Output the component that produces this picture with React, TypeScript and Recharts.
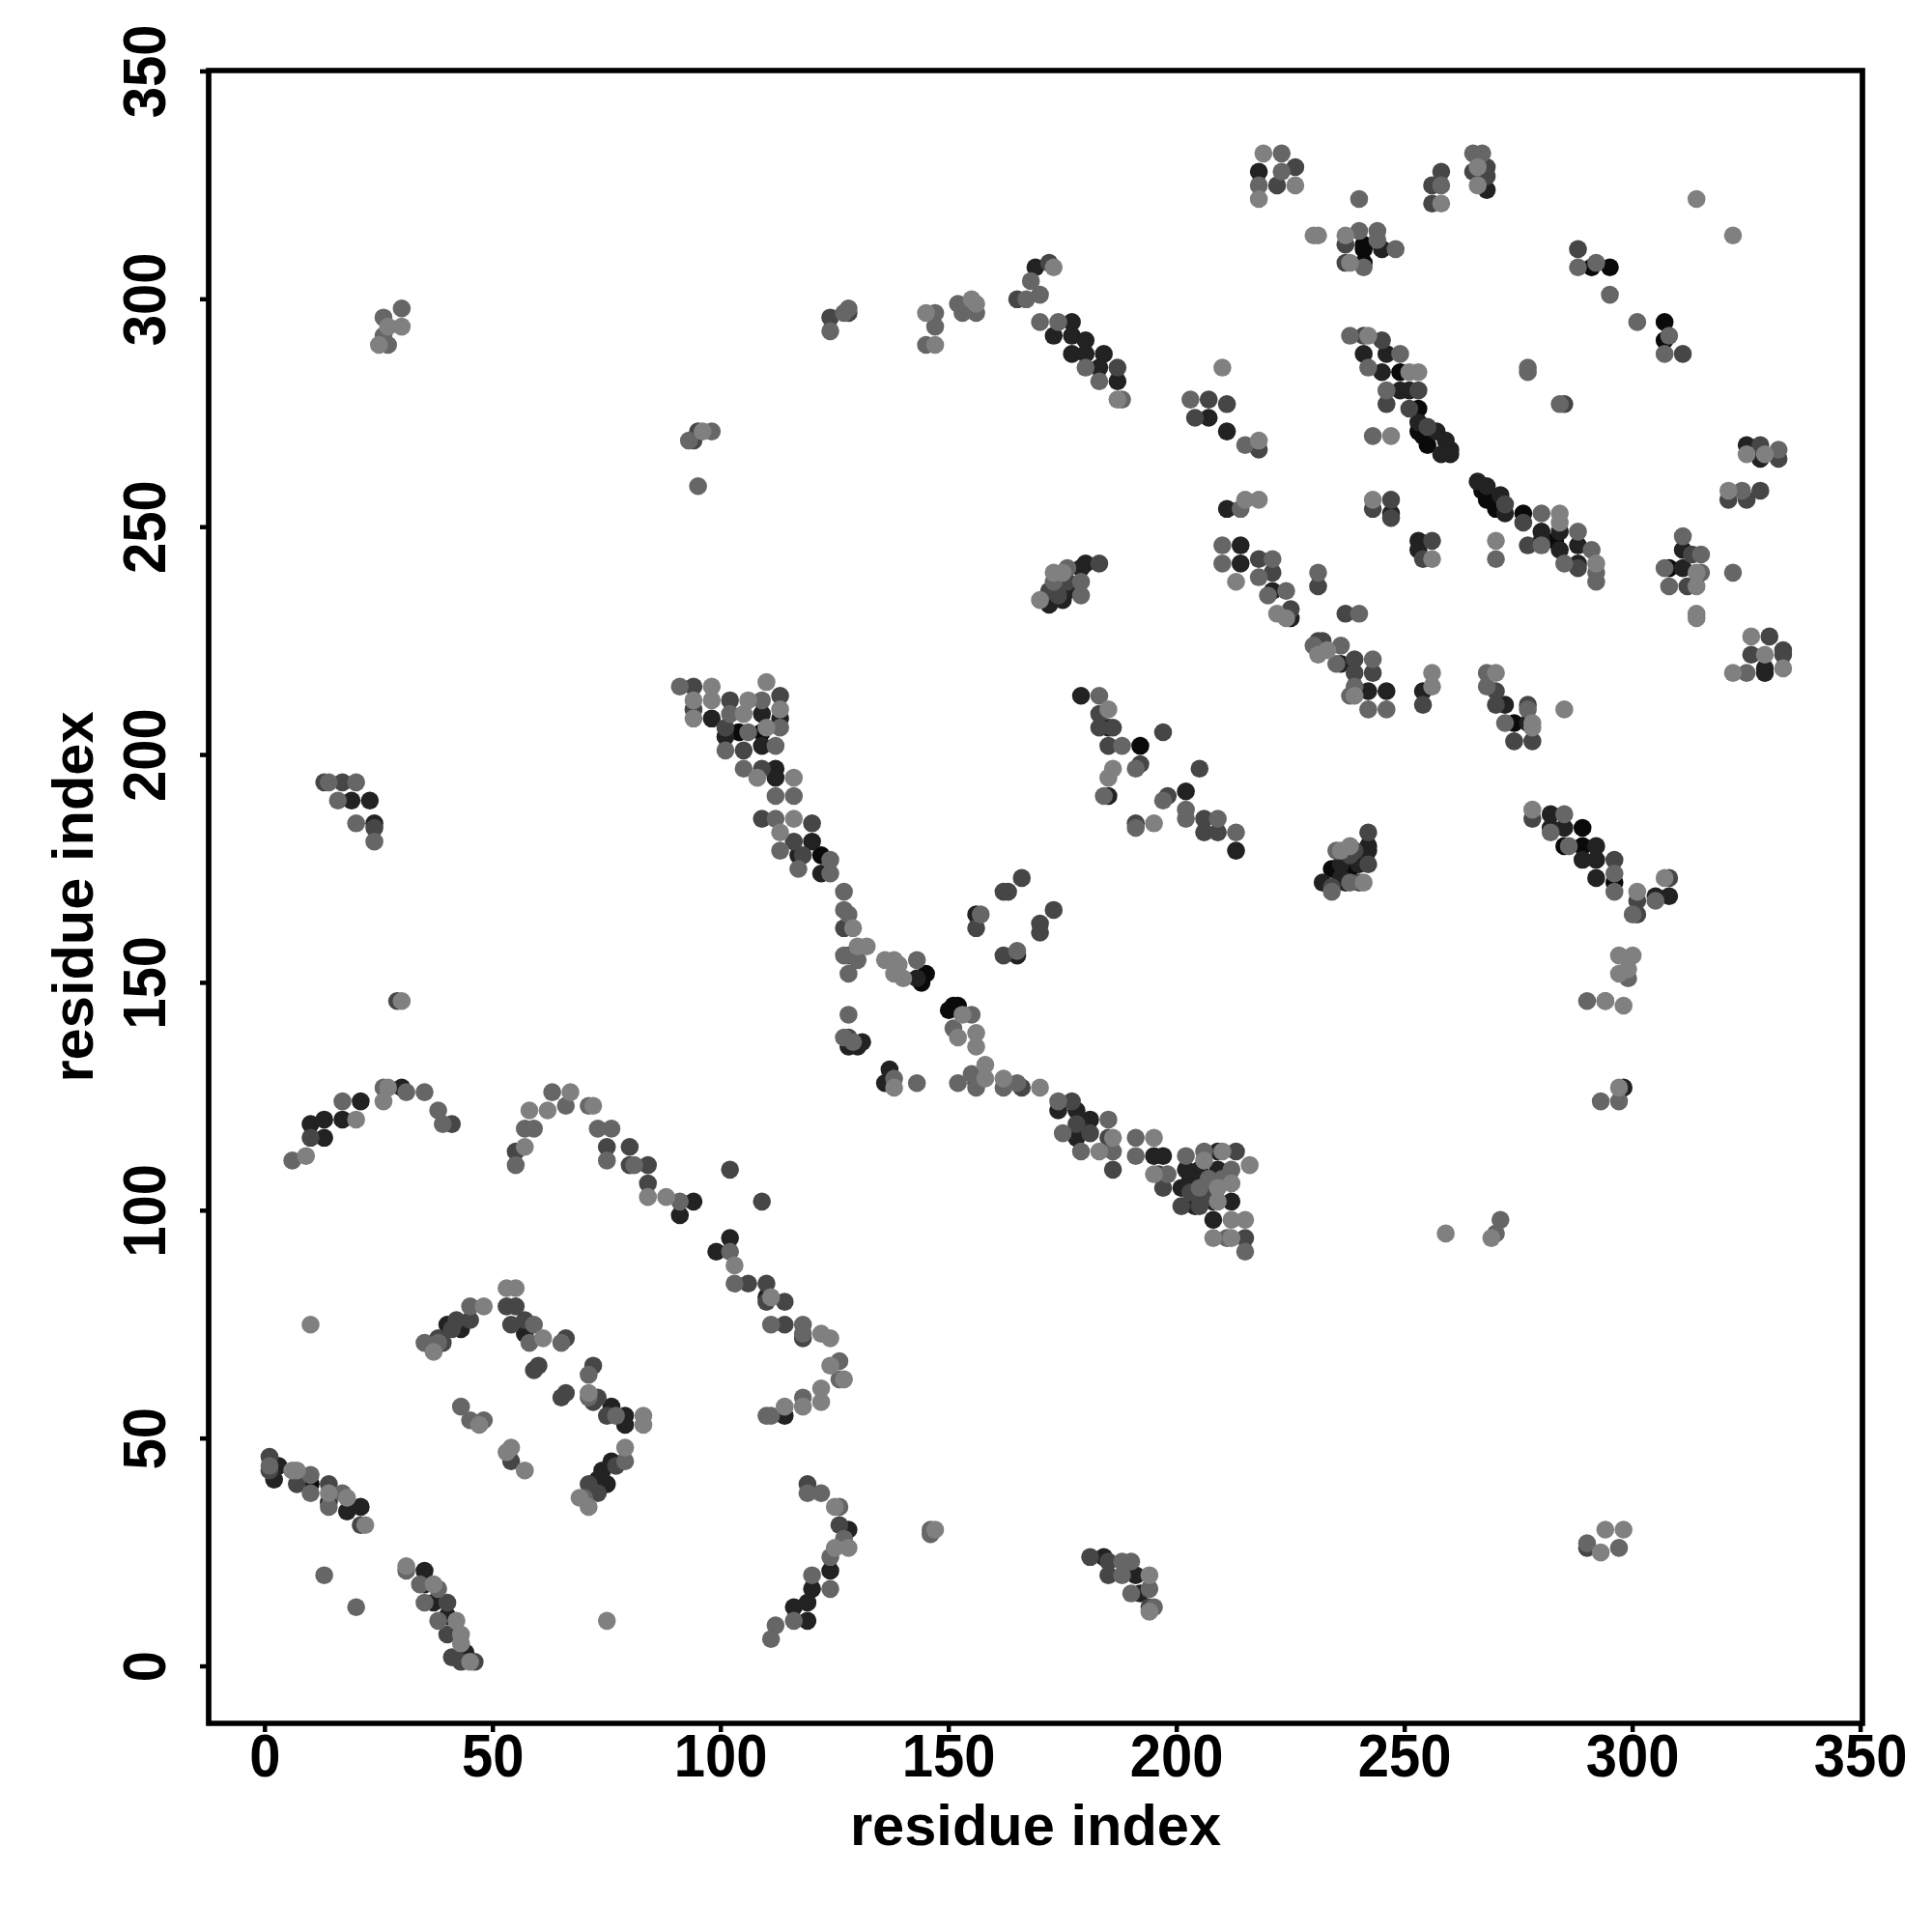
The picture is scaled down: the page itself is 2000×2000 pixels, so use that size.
import React from "react";
import {
  ScatterChart,
  Scatter,
  XAxis,
  YAxis,
  ReferenceArea,
} from "recharts";

// each contact is [residue x, residue y, score], score 1 (weak) .. 5 (strong)
type Contact = [number, number, number];

const nTermHelix: Contact[] = [
  [1, 46, 3], [3, 44, 4], [2, 41, 4], [1, 43, 3], [1, 44, 2], [6, 43, 1], [7, 43, 1], [7, 40, 3], [10, 42, 2], [10, 40, 5],
  [10, 38, 2], [14, 40, 3], [14, 38, 1], [14, 36, 4], [14, 35, 2], [17, 38, 2], [18, 37, 1], [18, 34, 4], [21, 35, 4], [21, 31, 3], [22, 31, 1],
];
const nTermTail: Contact[] = [
  [31, 22, 1], [31, 21, 2], [35, 21, 4], [35, 18, 4], [34, 18, 2], [37, 18, 1], [38, 17, 2], [35, 14, 2], [37, 14, 4], [40, 14, 3],
  [38, 10, 2], [40, 11, 4], [42, 10, 1], [40, 7, 3], [43, 7, 1], [43, 5, 1], [41, 2, 3], [44, 3, 4], [43, 1, 3], [45, 1, 1], [46, 1, 3],
  [13, 20, 2], [20, 13, 2], [75, 10, 1], [10, 75, 1],
];
const helixPair: Contact[] = [
  [35, 71, 2], [37, 69, 1], [38, 71, 2], [38, 72, 3], [39, 71, 3], [40, 75, 4], [41, 74, 3], [43, 74, 4], [42, 76, 3], [45, 76, 3], [45, 79, 2], [48, 79, 1],
  [53, 83, 1], [55, 83, 1], [53, 79, 3], [55, 79, 3], [54, 75, 3], [57, 76, 3], [57, 73, 4], [59, 75, 2], [61, 72, 1], [58, 71, 2], [65, 71, 2], [66, 72, 3],
  [59, 65, 3], [60, 66, 3], [65, 59, 3], [66, 60, 3], [71, 64, 2], [72, 66, 3], [71, 60, 1], [71, 59, 2], [73, 59, 3], [72, 58, 3], [76, 57, 4], [75, 55, 3],
  [79, 55, 4], [79, 53, 4], [83, 55, 1], [83, 53, 1], [77, 55, 2],
  [79, 48, 1], [79, 45, 2], [76, 45, 4], [74, 43, 4], [73, 41, 4], [75, 40, 4], [73, 38, 3], [71, 40, 3], [69, 37, 1], [71, 35, 1], [70, 37, 2], [77, 44, 3],
  [43, 57, 2], [45, 54, 2], [48, 54, 2], [47, 53, 1], [53, 47, 1], [54, 48, 1], [54, 45, 3], [57, 43, 1],
];
const firstArc: Contact[] = [
  [6, 111, 2], [9, 112, 1], [10, 116, 3], [10, 119, 4], [13, 116, 4], [13, 120, 4], [17, 120, 4], [17, 124, 2], [20, 120, 1], [21, 124, 4], [26, 124, 1], [26, 127, 2],
  [27, 127, 1], [30, 127, 4], [31, 126, 2], [35, 126, 2], [38, 122, 2], [39, 119, 2], [41, 119, 3], [30, 146, 1], [29, 146, 3],
  [25, 290, 1], [27, 290, 2], [26, 292, 2], [26, 296, 2], [30, 298, 2], [30, 294, 1], [27, 294, 1],
  [13, 194, 3], [14, 194, 2], [17, 194, 3], [20, 194, 2], [16, 190, 2], [19, 190, 4], [23, 190, 4], [20, 185, 2], [24, 185, 4], [24, 184, 3], [24, 181, 2],
];
const secondArc: Contact[] = [
  [55, 110, 2], [55, 113, 3], [57, 114, 1], [57, 118, 2], [59, 118, 2], [58, 122, 1], [62, 122, 1], [63, 126, 2], [66, 123, 2], [67, 126, 1], [71, 123, 2], [72, 123, 1],
  [73, 118, 2], [76, 118, 2], [75, 114, 3], [75, 111, 2], [80, 114, 3], [80, 110, 3], [81, 110, 2], [84, 110, 3], [84, 106, 3], [84, 103, 1], [88, 103, 1], [91, 102, 2],
  [91, 99, 4], [94, 102, 4], [102, 109, 3], [109, 102, 3], [102, 94, 4], [99, 91, 4], [102, 91, 2], [103, 88, 1], [103, 84, 2], [106, 84, 3], [110, 84, 3], [110, 81, 4], [111, 81, 1],
  [110, 80, 3], [114, 80, 3], [111, 75, 2], [114, 75, 3], [118, 75, 2], [118, 73, 2], [118, 72, 3], [122, 73, 1], [124, 72, 1], [124, 66, 1], [126, 67, 2], [127, 63, 1], [126, 63, 2],
  [122, 61, 1], [122, 58, 1], [118, 59, 2], [118, 57, 1], [114, 57, 1], [114, 55, 4], [111, 55, 2], [110, 55, 2],
];
const lowerTurn: Contact[] = [
  [119, 40, 3], [119, 38, 2], [122, 38, 2], [125, 35, 1], [126, 35, 2], [126, 31, 3], [128, 30, 4], [128, 26, 1], [125, 26, 1], [127, 28, 2], [124, 24, 2], [124, 21, 4], [124, 17, 2],
  [120, 20, 2], [120, 17, 4], [119, 14, 4], [116, 13, 4], [119, 10, 4], [116, 10, 2], [112, 9, 2], [111, 6, 2],
  [181, 24, 3], [184, 24, 4], [185, 23, 3], [185, 20, 3], [188, 23, 2], [190, 23, 2], [188, 20, 2], [191, 20, 4], [194, 20, 1], [194, 17, 2], [190, 16, 2], [192, 16, 4], [194, 13, 3], [195, 13, 2], [194, 12, 1],
  [146, 30, 2], [147, 30, 1], [146, 29, 2], [290, 26, 3], [293, 25, 1], [294, 30, 1], [298, 30, 1], [297, 26, 2], [290, 27, 2],
  [259, 95, 1], [269, 94, 1], [271, 98, 2], [270, 95, 2], [293, 124, 2], [297, 124, 2], [298, 127, 4], [297, 127, 1],
];
const centralDiagonal: Contact[] = [
  [91, 215, 2], [94, 215, 3], [98, 215, 1], [94, 212, 1], [94, 210, 3], [94, 208, 1], [98, 212, 1], [98, 208, 4], [102, 212, 3], [102, 209, 2], [106, 212, 1], [105, 209, 1], [109, 212, 2], [110, 216, 1],
  [113, 213, 3], [113, 210, 1], [113, 208, 4], [113, 206, 2], [109, 209, 4], [101, 204, 4], [101, 206, 3], [104, 205, 5], [106, 205, 2], [109, 205, 5], [110, 206, 1], [101, 201, 2], [105, 201, 3], [109, 202, 4],
  [112, 202, 2], [105, 197, 2], [108, 195, 1], [109, 197, 3], [112, 197, 4], [112, 195, 4], [116, 195, 1], [112, 191, 2], [116, 191, 2], [109, 186, 3], [112, 186, 2], [116, 186, 1], [120, 185, 3], [113, 183, 1],
  [116, 181, 3], [120, 181, 4], [113, 179, 2], [117, 178, 4], [118, 178, 3], [122, 178, 5], [124, 177, 2], [117, 175, 2], [122, 174, 4], [124, 174, 2], [127, 170, 2], [127, 166, 2], [128, 165, 2], [127, 162, 3],
  [129, 162, 1], [127, 156, 2], [130, 158, 1], [132, 158, 1], [130, 155, 2], [128, 156, 3], [128, 152, 2], [136, 155, 1], [138, 155, 1], [139, 154, 1], [138, 152, 1], [140, 151, 1], [143, 155, 2], [143, 151, 4],
  [145, 152, 5], [144, 150, 5], [144, 151, 5], [166, 173, 3], [162, 170, 3], [163, 170, 3], [173, 166, 3], [170, 163, 3], [170, 161, 3], [156, 165, 4], [157, 165, 2], [156, 162, 3], [162, 156, 3], [165, 156, 4], [165, 157, 2],
  [128, 143, 2], [127, 138, 2], [128, 138, 3], [128, 136, 4], [130, 136, 4], [131, 137, 4], [129, 137, 2], [137, 131, 4], [136, 128, 4], [138, 129, 2], [138, 127, 1], [143, 128, 2],
  [151, 145, 5], [150, 144, 5], [152, 145, 5], [155, 143, 2], [153, 143, 1], [151, 140, 2], [152, 138, 1], [156, 139, 1], [156, 136, 1],
];
const lowerStrand: Contact[] = [
  [152, 128, 2], [155, 130, 2], [156, 127, 2], [156, 128, 3], [158, 132, 1], [158, 129, 1], [162, 129, 1], [162, 127, 2], [165, 128, 2], [166, 127, 3], [170, 127, 1],
  [174, 124, 2], [174, 122, 4], [177, 124, 3], [178, 122, 4], [181, 120, 4], [178, 119, 3], [181, 117, 3], [178, 116, 4], [175, 117, 2], [179, 113, 2], [185, 120, 2], [186, 116, 1], [185, 116, 3], [183, 113, 1], [186, 113, 2], [186, 109, 3],
  [191, 116, 2], [195, 116, 1], [191, 112, 2], [195, 112, 4], [197, 112, 4], [195, 108, 1], [198, 108, 2], [196, 108, 3], [197, 105, 3],
  [202, 112, 2], [206, 113, 2], [206, 111, 1], [202, 109, 4], [205, 109, 4], [201, 105, 4], [205, 105, 2], [205, 104, 4], [201, 101, 3], [204, 101, 4], [205, 101, 3], [209, 113, 4], [210, 113, 1], [213, 113, 3],
  [209, 109, 4], [212, 109, 2], [216, 110, 1], [209, 105, 1], [212, 106, 1], [209, 102, 1], [212, 102, 4], [208, 102, 4], [208, 98, 4], [212, 98, 1], [215, 98, 1], [208, 94, 1], [211, 94, 2], [212, 94, 1], [215, 94, 3], [215, 91, 2],
  [203, 104, 3], [203, 107, 4], [207, 107, 2], [207, 103, 3], [210, 107, 2],
];
const midBranch: Contact[] = [
  [179, 213, 4], [183, 213, 2], [183, 209, 3], [185, 210, 1], [183, 206, 3], [185, 206, 4], [186, 206, 3], [185, 202, 3], [188, 202, 2], [192, 202, 5], [197, 205, 3], [192, 198, 3], [191, 197, 2], [186, 197, 1], [185, 195, 1], [185, 191, 4], [184, 191, 2],
  [205, 197, 3], [198, 191, 3], [202, 192, 4], [197, 190, 2], [191, 185, 3], [191, 184, 2], [195, 185, 1], [202, 188, 2], [202, 186, 2], [206, 186, 3], [206, 183, 3], [209, 186, 2], [209, 183, 3], [213, 183, 2], [213, 179, 4],
  [170, 234, 1], [172, 233, 4], [172, 236, 3], [173, 240, 1], [174, 237, 4], [175, 234, 4], [176, 238, 3], [179, 241, 4], [179, 238, 2], [179, 235, 2], [183, 242, 3], [180, 242, 4], [176, 241, 2],
  [174, 235, 3], [176, 236, 4], [173, 238, 2], [175, 240, 1],
];
const upperStrand: Contact[] = [
  [165, 300, 3], [167, 300, 2], [170, 301, 2], [168, 304, 2], [169, 307, 4], [172, 308, 3], [173, 307, 1], [170, 295, 2], [174, 295, 2], [177, 295, 4], [173, 292, 4], [177, 292, 4], [180, 291, 4], [177, 288, 4], [180, 288, 4], [184, 288, 4],
  [180, 285, 2], [183, 285, 4], [187, 285, 3], [183, 282, 2], [187, 282, 4], [187, 278, 1], [188, 278, 2],
  [93, 269, 2], [95, 271, 3], [96, 271, 1], [98, 271, 2], [94, 269, 3], [95, 259, 2],
  [124, 293, 2], [124, 296, 3], [127, 297, 2], [128, 297, 3], [128, 298, 2], [145, 297, 1], [147, 297, 2], [147, 294, 2], [147, 290, 1], [145, 290, 2], [152, 299, 2], [155, 300, 1], [156, 297, 2], [156, 299, 1], [153, 297, 2],
  [203, 278, 2], [204, 274, 3], [207, 278, 3], [207, 274, 4], [211, 277, 3], [211, 271, 4], [215, 268, 2], [218, 269, 1], [218, 267, 3], [210, 285, 1],
];
const topRight: Contact[] = [
  [219, 332, 1], [223, 332, 2], [218, 328, 4], [223, 328, 2], [226, 329, 3], [218, 325, 2], [222, 325, 3], [226, 325, 1], [218, 322, 1],
  [240, 322, 2], [230, 314, 1], [231, 314, 1], [237, 314, 1], [240, 315, 2], [244, 315, 2], [237, 312, 3], [241, 312, 5], [241, 311, 5], [245, 311, 4], [248, 311, 2], [237, 308, 3], [238, 308, 1], [241, 308, 5], [241, 307, 2], [244, 313, 2],
  [258, 328, 3], [256, 325, 3], [258, 325, 2], [256, 321, 3], [258, 321, 1],
  [265, 332, 2], [267, 332, 2], [265, 328, 3], [268, 329, 3], [268, 327, 3], [266, 325, 1], [268, 324, 4], [266, 329, 1],
  [314, 322, 1], [322, 314, 1], [288, 311, 3], [288, 307, 2], [291, 307, 5], [292, 308, 2], [295, 307, 5], [295, 301, 2], [301, 295, 2], [307, 295, 5], [307, 291, 5], [308, 292, 2], [307, 288, 2], [311, 288, 3],
  [277, 285, 2], [277, 284, 2], [284, 277, 2], [285, 277, 3],
];
const upperDiagonal: Contact[] = [
  [238, 292, 2], [241, 292, 3], [242, 292, 1], [245, 291, 3], [241, 288, 4], [246, 288, 4], [249, 288, 2], [242, 285, 2], [245, 284, 4], [249, 284, 5], [251, 284, 1], [253, 284, 1],
  [246, 280, 2], [249, 280, 4], [251, 280, 4], [253, 280, 3], [246, 277, 3], [251, 276, 3], [253, 276, 5], [253, 273, 4], [255, 272, 3], [253, 271, 5], [257, 271, 4], [254, 270, 5],
  [259, 269, 4], [255, 268, 5], [260, 267, 4], [258, 266, 4], [260, 266, 4], [243, 270, 2], [247, 270, 1],
  [325, 268, 4], [328, 268, 3], [325, 266, 1], [328, 265, 4], [332, 267, 2], [332, 265, 3], [329, 266, 1],
  [321, 258, 1], [321, 256, 3], [324, 258, 2], [325, 256, 3], [328, 258, 3],
  [243, 256, 1], [243, 254, 3], [247, 256, 3], [247, 253, 4], [247, 252, 3],
];
const secondDiagonal: Contact[] = [
  [266, 260, 4], [268, 259, 4], [267, 258, 5], [271, 257, 4], [268, 256, 5], [272, 255, 3], [270, 254, 5], [272, 253, 4], [276, 253, 5], [276, 251, 3], [280, 253, 2], [284, 253, 1], [284, 251, 1],
  [280, 249, 4], [280, 247, 4], [277, 246, 3], [280, 246, 2], [284, 249, 4], [283, 247, 5], [284, 245, 4], [288, 249, 2], [288, 246, 4], [291, 245, 2], [285, 242, 2], [288, 242, 4], [288, 241, 3], [292, 242, 1], [292, 240, 2], [292, 238, 2],
  [270, 247, 1], [270, 243, 2], [256, 247, 3], [253, 247, 4], [253, 245, 4], [254, 243, 3], [256, 243, 1],
  [311, 248, 2], [311, 245, 4], [315, 244, 2], [313, 244, 3], [307, 241, 2], [308, 241, 5], [311, 241, 4], [315, 240, 2], [308, 237, 2], [312, 237, 3], [314, 237, 1], [314, 240, 1], [322, 240, 2], [314, 231, 1], [314, 230, 1],
  [326, 226, 1], [330, 226, 3], [326, 222, 3], [329, 222, 1], [333, 223, 3], [333, 222, 3], [322, 218, 1], [325, 218, 2], [329, 219, 4], [329, 218, 4], [333, 219, 1],
];
const midRight: Contact[] = [
  [211, 254, 4], [214, 254, 2], [215, 256, 1], [218, 256, 1], [210, 246, 2], [214, 246, 4], [210, 242, 2], [214, 242, 4], [218, 243, 3], [221, 243, 2], [213, 238, 1], [221, 240, 3], [218, 239, 2],
  [221, 236, 4], [220, 235, 2], [224, 236, 2], [222, 231, 1], [225, 232, 3], [225, 230, 4], [224, 230, 1], [231, 240, 2], [231, 237, 3], [237, 231, 3], [240, 231, 2],
  [231, 225, 3], [232, 225, 3], [230, 224, 2], [233, 223, 1], [231, 222, 1], [236, 224, 2], [236, 220, 4], [235, 220, 2], [239, 221, 3], [243, 221, 2], [239, 218, 3], [243, 218, 3], [239, 215, 2], [238, 213, 2], [242, 214, 4], [246, 214, 4], [242, 210, 2], [246, 210, 2], [239, 213, 1],
  [256, 218, 1], [256, 215, 1], [254, 214, 4], [254, 211, 3],
  [268, 218, 2], [270, 218, 1], [268, 215, 2], [270, 214, 3], [270, 211, 3], [272, 211, 4], [277, 211, 3], [277, 210, 2], [272, 207, 2], [274, 207, 5], [277, 207, 4], [278, 207, 1], [278, 206, 1], [274, 203, 3], [278, 203, 3], [285, 210, 1],
];
const lowerRight: Contact[] = [
  [242, 183, 3], [242, 180, 4], [242, 179, 4], [242, 176, 3], [241, 172, 1], [238, 180, 1], [239, 179, 3], [235, 179, 2], [234, 175, 5], [238, 175, 5], [237, 172, 4], [234, 171, 3], [234, 170, 2], [232, 172, 4], [238, 172, 2],
  [236, 176, 4], [238, 178, 3], [240, 176, 4], [236, 173, 4], [240, 172, 3], [236, 179, 1],
  [278, 188, 1], [278, 186, 3], [282, 187, 4], [282, 184, 4], [285, 187, 2], [282, 183, 2], [285, 184, 4], [289, 184, 5], [285, 180, 5], [286, 180, 2], [289, 180, 5], [292, 180, 4], [289, 177, 4], [292, 177, 4], [296, 177, 3], [292, 173, 4], [296, 174, 2], [296, 172, 5], [296, 170, 2],
  [301, 170, 1], [301, 168, 3], [300, 165, 2], [301, 165, 3], [305, 169, 4], [305, 168, 2], [308, 169, 4], [307, 173, 1], [308, 173, 3],
  [297, 156, 1], [300, 156, 1], [299, 153, 1], [297, 152, 1], [299, 151, 2], [290, 146, 2], [294, 146, 2], [294, 146, 1], [298, 145, 1],
];

const clusters = [
  nTermHelix, nTermTail, helixPair, firstArc, secondArc, lowerTurn, centralDiagonal, lowerStrand,
  midBranch, upperStrand, topRight, upperDiagonal, secondDiagonal, midRight, lowerRight,
];
const contacts = clusters.flat();

const axisTicks = [0, 50, 100, 150, 200, 250, 300, 350];
const scoreLevels = [5, 4, 3, 2, 1];
const scoreGreys: Record<number, string> = { 5: "#0a0a0a", 4: "#222222", 3: "#464646", 2: "#666666", 1: "#808080" };

const X_DOMAIN = [-12.35, 350.4];
const Y_DOMAIN = [-12.5, 350.2];
const FONT = "'Liberation Sans', Arial, sans-serif";

const XTick = ({ x, y, payload }: any) => (
  <text
    transform={`translate(${x},${y + 46}) scale(1,1.1)`}
    textAnchor="middle"
    fontFamily={FONT}
    fontWeight="bold"
    fontSize={58}
    fill="#000"
  >
    {payload.value}
  </text>
);

const YTick = ({ x, y, payload }: any) => (
  <text
    transform={`translate(${x - 36},${y}) rotate(-90) scale(1,1.1)`}
    textAnchor="middle"
    fontFamily={FONT}
    fontWeight="bold"
    fontSize={58}
    fill="#000"
  >
    {payload.value}
  </text>
);

const Dot = ({ cx, cy, fill }: any) => <circle cx={cx} cy={cy} r={9.3} fill={fill} />;

export default function App() {
  return (
    <div style={{ position: "absolute", left: 0, top: 0, width: 2000, height: 2000, background: "#fff" }}>
      <ScatterChart width={2000} height={2000} margin={{ top: 73, right: 72, bottom: 0, left: 0 }}>
        <XAxis
          type="number"
          dataKey="x"
          domain={X_DOMAIN}
          ticks={axisTicks}
          allowDataOverflow
          height={216}
          axisLine={false}
          tickSize={9}
          tickMargin={0}
          tickLine={{ stroke: "#000", strokeWidth: 4.5 }}
          tick={<XTick />}
          interval={0}
          label={{
            value: "residue index",
            position: "insideBottom",
            offset: 90,
            style: { fontFamily: FONT, fontWeight: "bold", fontSize: 59.6, fill: "#000" },
          }}
        />
        <YAxis
          type="number"
          dataKey="y"
          domain={Y_DOMAIN}
          ticks={axisTicks}
          allowDataOverflow
          width={216}
          axisLine={false}
          tickSize={9}
          tickMargin={0}
          tickLine={{ stroke: "#000", strokeWidth: 4.5 }}
          tick={<YTick />}
          interval={0}
          label={{
            value: "residue index",
            angle: -90,
            position: "insideLeft",
            offset: 75,
            style: { fontFamily: FONT, fontWeight: "bold", fontSize: 59.6, fill: "#000", textAnchor: "middle" },
          }}
        />
        {scoreLevels.map((level) => (
          <Scatter
            key={level}
            data={contacts.filter((c) => c[2] === level).map((c) => ({ x: c[0], y: c[1] }))}
            fill={scoreGreys[level]}
            shape={<Dot />}
            isAnimationActive={false}
          />
        ))}
        <ReferenceArea
          x1={X_DOMAIN[0]}
          x2={X_DOMAIN[1]}
          y1={Y_DOMAIN[0]}
          y2={Y_DOMAIN[1]}
          fill="none"
          stroke="#000"
          strokeWidth={5.7}
          ifOverflow="visible"
        />
      </ScatterChart>
    </div>
  );
}
